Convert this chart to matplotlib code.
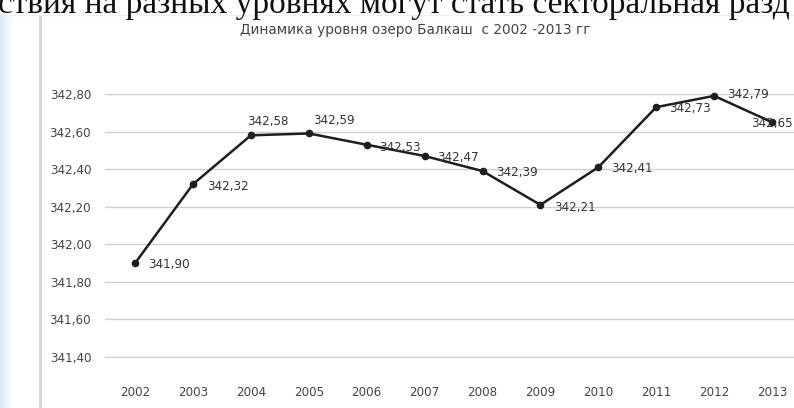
import matplotlib.pyplot as plt
import matplotlib.ticker as mticker
import numpy as np

years = ['2002', '2003', '2004', '2005', '2006', '2007',
         '2008', '2009', '2010', '2011', '2012', '2013']
level = [341.90, 342.32, 342.58, 342.59, 342.53, 342.47,
         342.39, 342.21, 342.41, 342.73, 342.79, 342.65]
y_ticks = [341.40, 341.60, 341.80, 342.00, 342.20, 342.40, 342.60, 342.80]

title = 'Динамика уровня озеро Балкаш  с 2002 -2013 гг'
page_text = 'ствия на разных уровнях могут стать секторальная разд'

# label offsets in points (dx, dy) for each data label
label_offsets = [(9, -1), (10, -2), (-3, 10), (3, 9), (9, -2), (9, -1),
                 (10, -1), (10, -2), (9, -1), (9, -1), (9, 1), (-15, -1)]

W, H = 794, 408
fig = plt.figure(figsize=(W / 100, H / 100), dpi=100)
fig.patch.set_facecolor('white')


def px(x0, y0, x1, y1):
    # pixel box (top-left origin) to figure fraction rect
    return [x0 / W, 1 - y1 / H, (x1 - x0) / W, (y1 - y0) / H]


# light blue page background strip on the left
bg = fig.add_axes(px(0, 0, W, H), zorder=-5)
bg.set_xlim(0, W)
bg.set_ylim(H, 0)
bg.axis('off')
grad = np.linspace(1, 0, 40)[None, :]
bg.imshow(grad, extent=(0, 14, H, 14), cmap=plt.cm.colors.LinearSegmentedColormap.from_list(
    'pb', ['white', '#d8ecf7']), aspect='auto', vmin=0, vmax=1)
bg.plot([40, 40], [16, H], color='#d4d4d4', lw=2)
bg.plot([12, W], [15, 15], color='#f0f0f0', lw=1)

fig.text(-0.002, 1 - 13 / H, page_text, family='Liberation Serif',
         fontsize=24, color='#111111', ha='left', va='baseline')
fig.text(0.523, 1 - 30 / H, title, fontsize=9.8, color='#444444',
         ha='center', va='center')

ax = fig.add_axes(px(105, 94, 794, 358))
x = np.arange(len(years))
ax.plot(x, level, color='#1e1e1e', lw=1.8, marker='o', ms=4.5,
        mfc='#1e1e1e', mec='#1e1e1e', clip_on=False, zorder=3)

for i, v in enumerate(level):
    dx, dy = label_offsets[i]
    ax.annotate(f'{v:.2f}'.replace('.', ','), (x[i], v), xytext=(dx, dy),
                textcoords='offset points', fontsize=8.6, color='#333333',
                ha='left', va='center', annotation_clip=False, zorder=4)

ax.set_xlim(-0.52, 11.38)
ax.set_ylim(341.395, 342.80)
ax.set_xticks(x)
ax.set_xticklabels(years)
ax.set_yticks(y_ticks)
ax.yaxis.set_major_formatter(
    mticker.FuncFormatter(lambda v, p: f'{v:.2f}'.replace('.', ',')))
ax.grid(axis='y', color='#cfcfcf', lw=1)
ax.set_axisbelow(True)
for s in ax.spines.values():
    s.set_visible(False)
ax.tick_params(axis='both', length=0, labelsize=8.6, labelcolor='#444444')
ax.tick_params(axis='y', pad=10)
ax.tick_params(axis='x', pad=20)

fig.savefig('out.png', dpi=100)
